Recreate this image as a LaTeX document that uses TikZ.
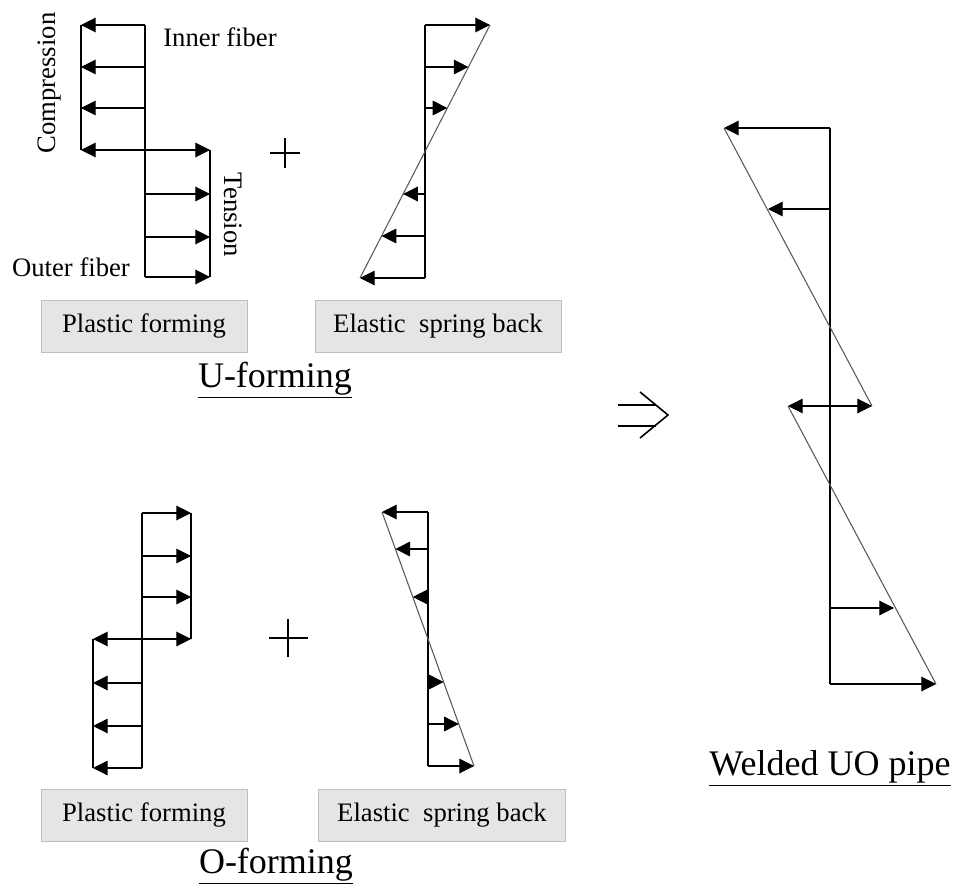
\documentclass[tikz,border=0pt]{standalone}
\usepackage{fontspec}
\setmainfont{Liberation Serif}
\usetikzlibrary{arrows.meta}

\begin{document}
\begin{tikzpicture}[
    x=0.75pt, y=-0.75pt,
    txt/.style={font=\fontsize{20}{24}\selectfont, inner sep=0pt},
    title/.style={font=\fontsize{27}{32}\selectfont, inner sep=0pt},
    stage/.style={draw=black!25, fill=black!10, minimum height=39pt, inner sep=0pt, font=\fontsize{20}{24}\selectfont},
    force/.style={-{Triangle[length=11pt,width=11pt]}, line width=0.8pt},
    dforce/.style={{Triangle[length=11pt,width=11pt]}-{Triangle[length=11pt,width=11pt]}, line width=0.8pt},
    bar/.style={line width=0.8pt},
    slope/.style={black!65, line width=0.8pt},
    sign/.style={line width=1.2pt}
]
    \useasboundingbox (0,0) rectangle (956,888);

    % U-forming, plastic forming
    \draw[bar] (145,25) -- (145,277);
    \draw[bar] (81,25) -- (81,150);
    \draw[bar] (210,150) -- (210,277);
    \foreach \y in {25,67,108} \draw[force] (145,\y) -- (81,\y);
    \draw[dforce] (81,150) -- (210,150);
    \foreach \y in {194,237,277} \draw[force] (145,\y) -- (210,\y);
    \node[txt, rotate=90] (comp) at (50,83) {Compression};
    \node[txt] (inner) at (220,37) {Inner fiber};
    \node[txt, rotate=-90] (tens) at (233,215) {Tension};
    \node[txt] (outer) at (71,267) {Outer fiber};

    \draw[sign] (270,153) -- (300,153) (285,138) -- (285,168);

    % U-forming, elastic spring back
    \draw[bar] (425,25) -- (425,278);
    \draw[slope] (490,25) -- (360,278);
    \foreach \y in {25,67,108,194,236,278} \draw[force] (425,\y) -- ({490-(\y-25)/253*130},\y);

    \node[stage, minimum width=154.5pt] (uplas) at (144,326) {Plastic forming};
    \node[stage, minimum width=184.5pt] (uelas) at (438,326) {Elastic\ \ spring back};
    \node[title] (uform) at (275,380) {\underline{U-forming}};

    % O-forming, plastic forming
    \draw[bar] (142,513) -- (142,768);
    \draw[bar] (191,513) -- (191,639);
    \draw[bar] (93,639) -- (93,768);
    \foreach \y in {513,556,597} \draw[force] (142,\y) -- (191,\y);
    \draw[dforce] (93,639) -- (191,639);
    \foreach \y in {683,726,768} \draw[force] (142,\y) -- (93,\y);

    \draw[sign] (269,638) -- (308,638) (288,619) -- (288,657);

    % O-forming, elastic spring back
    \draw[bar] (428,512) -- (428,766);
    \draw[slope] (382,512) -- (474,766);
    \foreach \y in {512,549,597,682,724,766} \draw[force] (428,\y) -- ({382+(\y-512)/254*92},\y);

    \node[stage, minimum width=154.5pt] (oplas) at (144,815) {Plastic forming};
    \node[stage, minimum width=185pt] (oelas) at (442,815) {Elastic\ \ spring back};
    \node[title] (oform) at (276,866) {\underline{O-forming}};

    % implies
    \draw[sign] (618,405) -- (656,405) (618,426) -- (656,426);
    \draw[sign] (640,392) -- (668,415) -- (640,438);

    % welded UO pipe
    \draw[bar] (830,128) -- (830,684);
    \draw[slope] (724,128) -- (872,406);
    \draw[slope] (788,406) -- (936,684);
    \draw[force] (830,128) -- (724,128);
    \draw[force] (830,209) -- (768,209);
    \draw[dforce] (788,406) -- (872,406);
    \draw[force] (830,608) -- (894,608);
    \draw[force] (830,684) -- (936,684);
    \node[title] (pipe) at (830,768) {\underline{Welded UO pipe}};
\end{tikzpicture}
\end{document}
